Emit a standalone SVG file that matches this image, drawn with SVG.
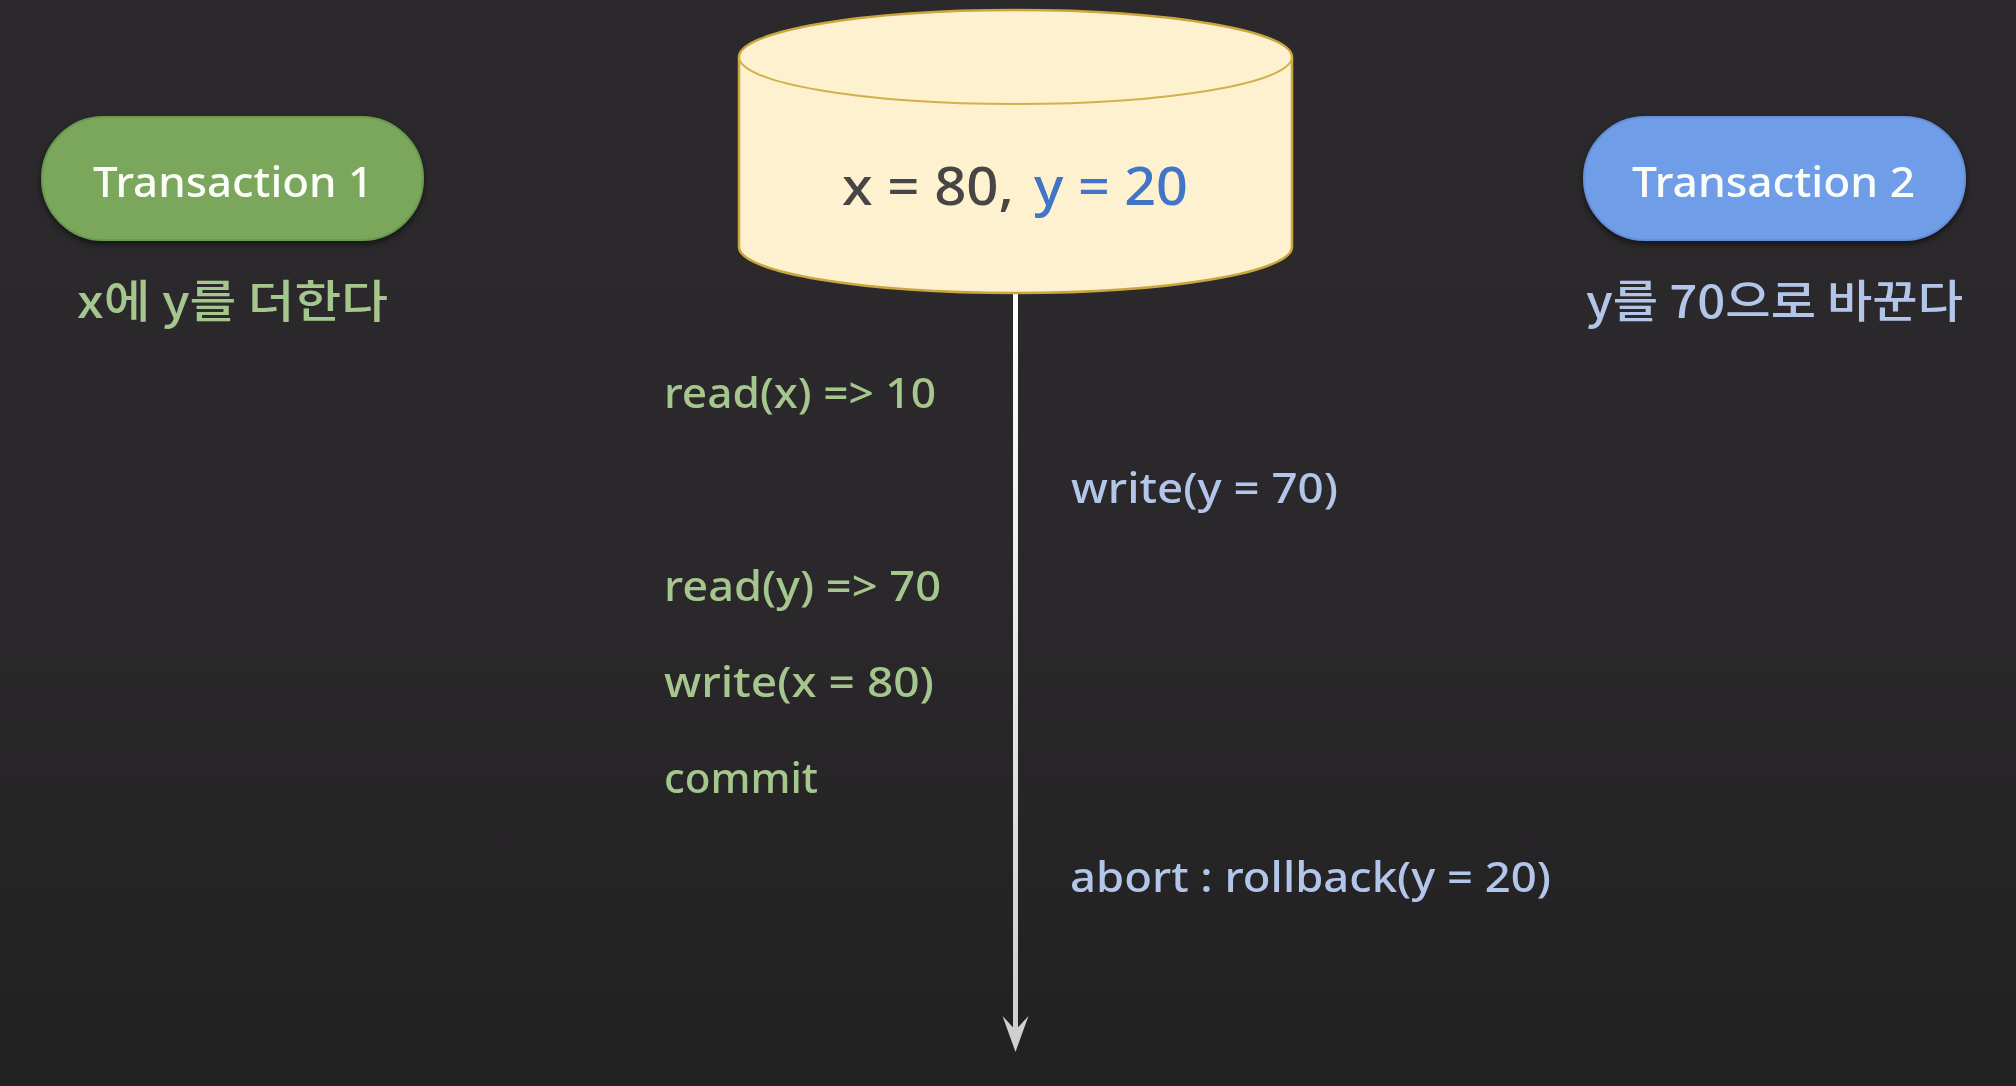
<svg xmlns="http://www.w3.org/2000/svg" width="2016" height="1086" viewBox="0 0 2016 1086">
<style>
text{font-family:"Noto Sans","Noto Sans CJK KR",sans-serif;font-weight:500;filter:url(#soft)}
.ko{font-family:"Noto Sans CJK KR","Noto Sans",sans-serif;font-size:45px}
.pill{stroke-width:2}
.pt{font-size:41px;fill:#fbfdf8}
.op{font-size:41px}
.g{fill:#a5c78e}
.b{fill:#b3c6ea}
.cyl{fill:#fef1cf;stroke:#c9a73f;stroke-width:2.5}
</style>
<defs>
<linearGradient id="bg" x1="0" y1="0" x2="0" y2="1"><stop offset="0" stop-color="#2b292b"/><stop offset="0.55" stop-color="#2a282a"/><stop offset="1" stop-color="#222122"/></linearGradient>
<linearGradient id="ln" gradientUnits="userSpaceOnUse" x1="0" y1="293" x2="0" y2="1040"><stop offset="0" stop-color="#ffffff"/><stop offset="1" stop-color="#cfcfcf"/></linearGradient>
<filter id="sh" x="-10%" y="-20%" width="120%" height="150%"><feDropShadow dx="0" dy="3" stdDeviation="3" flood-color="#000" flood-opacity="0.55"/></filter>
<filter id="soft" x="-5%" y="-10%" width="110%" height="120%"><feGaussianBlur stdDeviation="0.5"/></filter>
</defs>
<rect id="background" width="2016" height="1086" fill="url(#bg)"/>
<g id="connectors">
<path d="M1015.5 293 L1015.5 1030" fill="none" stroke="url(#ln)" stroke-width="5"/>
<path d="M1002.5 1016 L1015.5 1030 L1028.5 1016 L1015.5 1052 Z" fill="#cfcfcf"/>
</g>
<g id="database">
<path class="cyl" d="M739 57 A276.5 47 0 0 1 1292 57 L1292 247 A276.5 46 0 0 1 739 247 Z"/>
<path d="M739 57 A276.5 47 0 0 0 1292 57" fill="none" stroke="#d2b04c" stroke-width="2"/>
<text x="842" y="205" font-size="53" textLength="172" lengthAdjust="spacingAndGlyphs" fill="#474544">x = 80,</text>
<text x="1034" y="205" font-size="53" textLength="154" lengthAdjust="spacingAndGlyphs" fill="#3f74c8">y = 20</text>
</g>
<g id="transaction-1">
<rect class="pill" x="42" y="117" width="381" height="123" rx="61.5" fill="#7aa75c" stroke="#6b9a4e" filter="url(#sh)"/>
<text class="pt" x="93" y="197" textLength="280" lengthAdjust="spacingAndGlyphs">Transaction 1</text>
<text class="ko g" x="77" y="318" textLength="311" lengthAdjust="spacingAndGlyphs">x에 y를 더한다</text>
</g>
<g id="transaction-2">
<rect class="pill" x="1584" y="117" width="381" height="123" rx="61.5" fill="#6f9de8" stroke="#6590db" filter="url(#sh)"/>
<text class="pt" x="1632" y="197" textLength="283" lengthAdjust="spacingAndGlyphs">Transaction 2</text>
<text class="ko b" x="1586" y="318" textLength="377" lengthAdjust="spacingAndGlyphs">y를 70으로 바꾼다</text>
</g>
<g id="operations-1">
<text class="op g" x="664" y="408" textLength="272" lengthAdjust="spacingAndGlyphs">read(x) =&gt; 10</text>
<text class="op g" x="664" y="601" textLength="277" lengthAdjust="spacingAndGlyphs">read(y) =&gt; 70</text>
<text class="op g" x="664" y="697" textLength="270" lengthAdjust="spacingAndGlyphs">write(x = 80)</text>
<text class="op g" x="664" y="793" textLength="154" lengthAdjust="spacingAndGlyphs">commit</text>
</g>
<g id="operations-2">
<text class="op b" x="1071" y="503" textLength="267" lengthAdjust="spacingAndGlyphs">write(y = 70)</text>
<text class="op b" x="1070" y="892" textLength="481" lengthAdjust="spacingAndGlyphs">abort : rollback(y = 20)</text>
</g>
</svg>
